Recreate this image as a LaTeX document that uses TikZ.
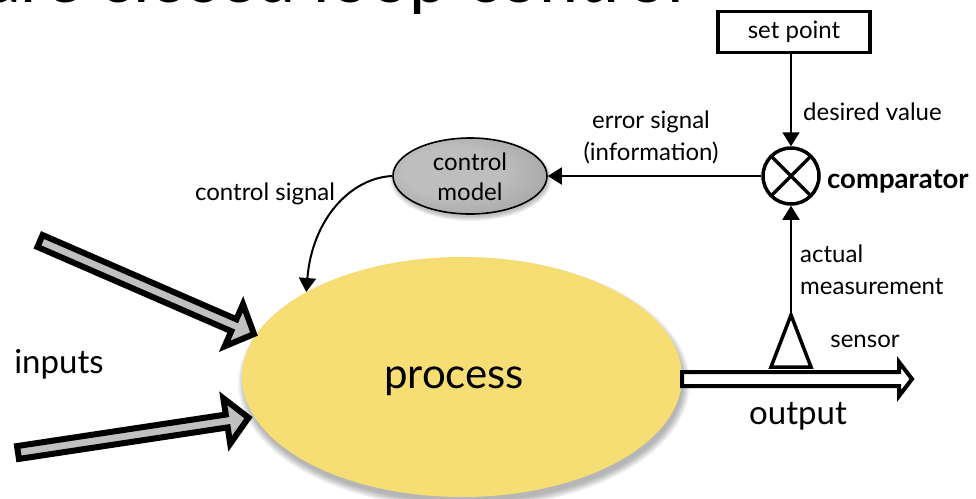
\documentclass[tikz,border=0pt]{standalone}
\usepackage{fontspec}
\setmainfont{Lato}
\usetikzlibrary{calc,arrows.meta,shapes.geometric}

\definecolor{procin}{RGB}{246,221,116}
\definecolor{procout}{RGB}{232,197,88}
\definecolor{procrim}{RGB}{200,162,66}
\definecolor{cmin}{RGB}{190,190,190}
\definecolor{cmout}{RGB}{136,136,136}
\definecolor{shaftgray}{RGB}{192,192,192}

% soft radial fills for the two ellipses
\pgfdeclareradialshading{procshade}{\pgfpoint{0bp}{-4bp}}{%
  color(0bp)=(procin); color(26bp)=(procin); color(45bp)=(procout); color(50bp)=(procrim)}
\pgfdeclareradialshading{cmshade}{\pgfpoint{-8bp}{4bp}}{%
  color(0bp)=(cmin); color(16bp)=(cmin); color(50bp)=(cmout)}

% outlined block arrow: options, tail, tip, shaft half-width, head half-width, head length
\newcommand\fatarrow[6]{%
  \coordinate (fabase) at ($(#3)!#6!(#2)$);
  \draw[#1] ($(#2)!#4!90:(#3)$) -- ($(fabase)!#4!-90:(#2)$) -- ($(fabase)!#5!-90:(#2)$)
    -- (#3) -- ($(fabase)!#5!90:(#2)$) -- ($(fabase)!#4!90:(#2)$) -- ($(#2)!#4!-90:(#3)$) -- cycle;
}

\tikzset{
  lbl/.style={font=\fontsize{24}{29}\selectfont, inner sep=0},
  big/.style={font=\fontsize{33}{36}\selectfont, inner sep=0},
  conn/.style={line width=2pt, -{Triangle[length=14pt,width=17pt]}},
  thickline/.style={line width=3.5pt},
}

\begin{document}
\begin{tikzpicture}[x=1pt, y=-1pt]
\useasboundingbox (0,0) rectangle (976,498);
\fill[white] (0,0) rectangle (976,498);

% heading, mostly above the page
\node[anchor=base west, inner sep=0, font=\fontsize{70}{70}\selectfont] (title) at (-14,2) {are closed loop control};

% process
\foreach \i in {0,...,7}
  \fill[black, opacity=0.04] (464,383) ellipse [x radius={(219+\i)*1pt}, y radius={(119+\i)*1pt}];
\node[ellipse, minimum width=440pt, minimum height=240pt, inner sep=0, shading=procshade] (proc) at (462,377) {};
\node[font=\fontsize{42}{44}\selectfont, inner sep=0, anchor=base] (proclbl) at (454,388) {process};

% inputs
\coordinate (in1tail) at (40,241);
\coordinate (in1tip) at (254,334);
\coordinate (in2tail) at (18,452.5);
\coordinate (in2tip) at (248.5,417.7);
\fatarrow{line width=6pt, fill=shaftgray}{in1tail}{in1tip}{6.5pt}{23pt}{22pt}
\fatarrow{line width=6pt, fill=shaftgray}{in2tail}{in2tip}{6.5pt}{23pt}{22pt}
\node[big, anchor=base] (inputs) at (59,373) {inputs};

% output
\coordinate (outtail) at ($(proc.east)+(0,2)$);
\coordinate (outtip) at (912,379);
\fatarrow{line width=4pt, fill=white}{outtail}{outtip}{7pt}{17pt}{13pt}
\node[big, anchor=base] (outputlbl) at (798,424) {output};

% set point and comparator
\node[draw, thickline, minimum width=152pt, minimum height=41pt, inner sep=0, lbl] (setpoint) at (794,32) {set point};
\node[circle, draw, thickline, minimum size=56pt, inner sep=0] (comp) at (791,176) {};
\draw[thickline, shorten <=1.75pt, shorten >=1.75pt] (comp.north east) -- (comp.south west);
\draw[thickline, shorten <=1.75pt, shorten >=1.75pt] (comp.north west) -- (comp.south east);
\node[lbl, anchor=base west] (dv) at (803,120) {desired value};
\node[lbl, anchor=base west, font=\fontsize{27.5}{29}\selectfont\bfseries] (cmplbl) at (827,188) {comparator};

% control model
\foreach \i in {0,...,4}
  \fill[black, opacity=0.05] (471,179) ellipse [x radius={(77+\i)*1pt}, y radius={(38+\i)*1pt}];
\node[ellipse, draw, line width=1.6pt, minimum width=154pt, minimum height=76pt, inner sep=0, shading=cmshade] (cm) at (470,176) {};
\node[lbl, anchor=base] (cmtop) at (470,170) {control};
\node[lbl, anchor=base] (cmbot) at (470,200) {model};

% sensor
\coordinate (sensor) at (791,315);

% connectors
\draw[conn] (setpoint.south -| comp.north) -- (comp.north);
\draw[conn] (comp.west) -- (cm.east);
\draw[conn] (cm.west) .. controls (350,178) and (312,220) .. (proc.north west);
\draw[conn] (sensor) -- (comp.south);
\draw[thickline, fill=white] (sensor) -- ++(-20,52) -- ++(40,0) -- cycle;

% labels
\node[lbl, anchor=base] (err1) at (651,128) {error signal};
\node[lbl, anchor=base] (err2) at (651,160) {(information)};
\node[lbl, anchor=base] (cs) at (265,200) {control signal};
\node[lbl, anchor=base west] (am1) at (800,262) {actual};
\node[lbl, anchor=base west] (am2) at (800,294) {measurement};
\node[lbl, anchor=base] (sens) at (865,347) {sensor};
\end{tikzpicture}
\end{document}
